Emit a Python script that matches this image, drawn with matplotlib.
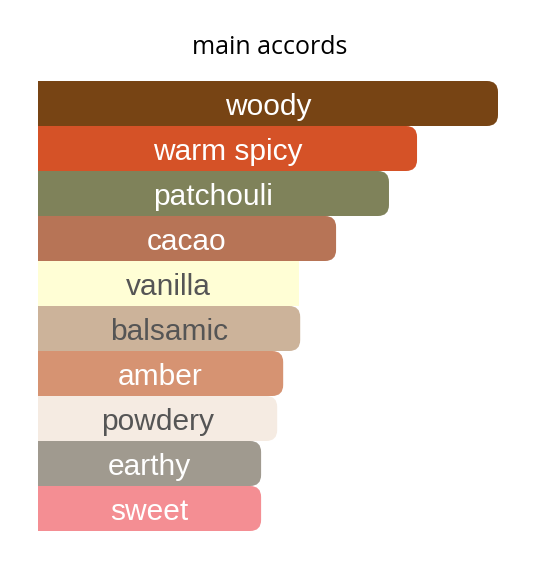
import matplotlib.pyplot as plt
from matplotlib.patches import FancyBboxPatch, Rectangle

# accord strengths as percent of the strongest one
accords = ["woody", "warm spicy", "patchouli", "cacao", "vanilla",
           "balsamic", "amber", "powdery", "earthy", "sweet"]
strength = [100, 82.4, 76.3, 64.8, 56.7, 57.0, 53.3, 52.0, 48.5, 48.5]
colors = ["#774414", "#d55227", "#7f825a", "#b77456", "#fffed5",
          "#ccb39a", "#d69372", "#f5ebe2", "#a09a8f", "#f48e93"]
text_colors = ["white", "white", "white", "white", "#555555",
               "#555555", "white", "#555555", "white", "white"]
rounded = [True, True, True, True, False, True, True, True, True, True]

W, H = 539, 568
fig = plt.figure(figsize=(W / 100, H / 100), dpi=100)
fig.patch.set_facecolor("white")

left, right, top, bottom = 38, 498, 81, 531
ax = fig.add_axes([left / W, (H - bottom) / H, (right - left) / W, (bottom - top) / H])
ax.set_xlim(0, 100)
ax.set_ylim(len(accords), 0)
ax.axis("off")

px_x = 100 / (right - left)          # data units per pixel, x
px_y = len(accords) / (bottom - top)  # data units per pixel, y
r = 11 * px_x

for i, (name, w, c, tc, rd) in enumerate(zip(accords, strength, colors, text_colors, rounded)):
    if rd:
        ax.add_patch(Rectangle((0, i), w - r, 1, facecolor=c, edgecolor="none"))
        ax.add_patch(FancyBboxPatch((w - 3 * r, i), 3 * r, 1,
                                    boxstyle=f"round,pad=0,rounding_size={r}",
                                    mutation_aspect=px_y / px_x,
                                    facecolor=c, edgecolor="none"))
    else:
        ax.add_patch(Rectangle((0, i), w, 1, facecolor=c, edgecolor="none"))
    ax.text(w / 2, i + 0.57, name, ha="center", va="center", color=tc,
            fontsize=21.5, family="Liberation Sans")

fig.text(0.5, 1 - 48 / H, "main accords", ha="center", va="center",
         fontsize=18, family="Open Sans", color="black")

fig.savefig("out.png", dpi=100)
